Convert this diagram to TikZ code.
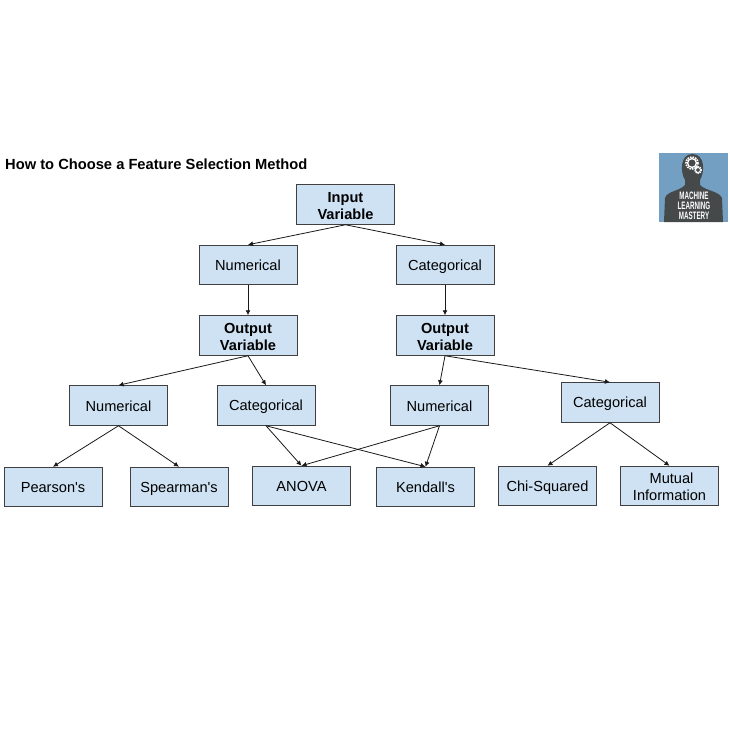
\documentclass[tikz,border=0pt]{standalone}
\usepackage{fontspec}
\setmainfont{Liberation Sans}
\usetikzlibrary{arrows.meta}
\definecolor{boxblue}{HTML}{CFE2F3}
\definecolor{boxline}{HTML}{404040}
\definecolor{logoblue}{HTML}{739FC2}
\definecolor{logodark}{HTML}{45494A}
\newcommand{\boxstrut}{\rule[-3pt]{0pt}{17pt}}
\newcommand{\topstrut}[1][14pt]{\rule{0pt}{#1}}
\tikzset{
  box/.style={draw=boxline, fill=boxblue, line width=1pt, minimum width=98pt, minimum height=39.5pt, inner sep=0pt, align=center, font=\fontsize{14.6}{17}\selectfont},
  onebox/.style={box, execute at begin node=\boxstrut, execute at end node=\boxstrut},
  boldbox/.style={box, font=\fontsize{14.6}{17}\selectfont\bfseries},
  link/.style={draw=black!90, line width=0.8pt, -{Latex[length=5pt,width=5pt]}},
  logotext/.style={text=white, inner sep=0pt, font=\fontsize{10.8}{10.8}\selectfont\bfseries}
}
\begin{document}
\begin{tikzpicture}[x=1pt, y=-1pt]
\useasboundingbox (0,0) rectangle (730,732);

%% title
\node[anchor=west, inner sep=0pt, font=\fontsize{14.7}{17}\selectfont\bfseries] (title) at (5,164) {How to Choose a Feature Selection Method};

%% logo
\fill[logoblue] (659,153) rectangle (728,222);
\fill[logodark] (664,222) -- (665,198) .. controls (667,191) and (680,191) .. (685,185) -- (685,180) .. controls (680,172) and (680,154) .. (692.5,154) .. controls (705,154) and (705,172) .. (700,180) -- (700,185) .. controls (706,191) and (719,191) .. (722,198) -- (723,222) -- cycle;
\draw[white, line width=1.6pt, densely dotted] (692,163) circle (6);
\draw[white, line width=1.3pt] (692,163) circle (4.4);
\draw[white, line width=1.2pt, densely dotted] (698,170) circle (3.4);
\draw[white, line width=1pt] (698,170) circle (2.5);
\node[logotext] (logoa) at (694,196) {\scalebox{.58}[1]{MACHINE}};
\node[logotext] (logob) at (694,206) {\scalebox{.58}[1]{LEARNING}};
\node[logotext] (logoc) at (694,216) {\scalebox{.58}[1]{MASTERY}};

%% input
\node[boldbox] (input) at (345.5,204.5) {\topstrut Input\\Variable};
\node[onebox] (num) at (248,265) {Numerical};
\node[onebox] (cat) at (445,265) {Categorical};

%% output
\node[boldbox] (outl) at (248,335.5) {\topstrut Output\\Variable};
\node[boldbox] (outr) at (445,335.5) {\topstrut Output\\Variable};
\node[onebox] (numl) at (118.5,405.5) {Numerical};
\node[onebox] (catl) at (266,405.5) {Categorical};
\node[onebox] (numr) at (439.5,405.5) {Numerical};
\node[onebox] (catr) at (610,402.5) {Categorical};

%% methods
\node[onebox] (pearson) at (53,487) {Pearson\textquotesingle s};
\node[onebox] (spearman) at (179,487) {Spearman\textquotesingle s};
\node[onebox] (anova) at (301.5,486) {ANOVA};
\node[onebox] (kendall) at (425.5,487) {Kendall\textquotesingle s};
\node[onebox] (chi) at (547.5,486) {Chi-Squared};
\node[box] (mutual) at (669.5,486) {\topstrut[12pt] Mutual\\Information};

%% arrows
\draw[link] (input.south) -- (num.north);
\draw[link] (input.south) -- (cat.north);
\draw[link] (num.south) -- (outl.north);
\draw[link] (cat.south) -- (outr.north);
\draw[link] (outl.south) -- (numl.north);
\draw[link] (outl.south) -- (catl.north);
\draw[link] (outr.south) -- (numr.north);
\draw[link] (outr.south) -- (catr.north);
\draw[link] (numl.south) -- (pearson.north);
\draw[link] (numl.south) -- (spearman.north);
\draw[link] (catl.south) -- (anova.north);
\draw[link] (catl.south) -- (kendall.north);
\draw[link] (numr.south) -- (anova.north);
\draw[link] (numr.south) -- (kendall.north);
\draw[link] (catr.south) -- (chi.north);
\draw[link] (catr.south) -- (mutual.north);

\end{tikzpicture}
\end{document}
